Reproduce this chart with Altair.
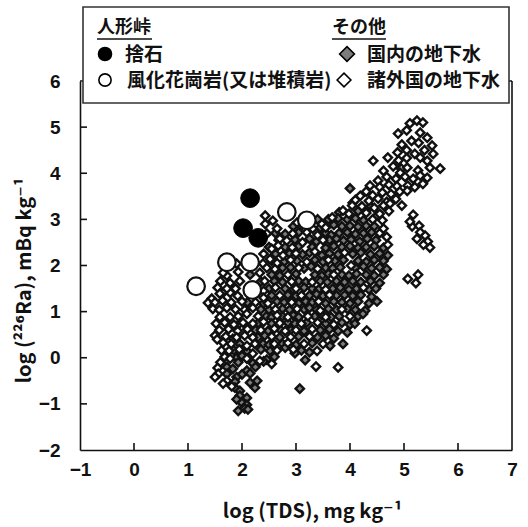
import altair as alt
import pandas as pd

# ---------------- data ----------------
waste_rock = [(2.15, 3.46), (2.02, 2.81), (2.30, 2.60)]            # 捨石
weathered_granite = [(1.15, 1.55), (1.72, 2.07), (2.15, 2.07),
                     (2.19, 1.47), (2.83, 3.16), (3.20, 2.98)]      # 風化花崗岩(又は堆積岩)

domestic_gw = [  # 国内の地下水 (gray diamonds)
    (4.00, 3.67), (4.05, 3.36), (3.80, 3.15), (4.15, 3.18), (4.38, 3.28), (4.50, 3.08),
    (3.40, 3.00), (3.60, 3.00), (3.78, 3.02), (3.95, 3.00), (4.10, 3.02), (4.25, 2.98),
    (2.95, 2.85), (3.10, 2.86), (3.25, 2.84), (3.45, 2.82), (3.70, 2.88), (3.85, 2.85),
    (4.00, 2.86), (4.15, 2.84), (4.30, 2.86), (4.45, 2.85),
    (2.62, 2.70), (2.80, 2.68), (3.05, 2.72), (3.55, 2.70), (3.65, 2.66), (3.80, 2.70),
    (3.95, 2.72), (4.10, 2.68), (4.25, 2.70), (4.40, 2.72),
    (2.68, 2.55), (2.98, 2.56), (3.25, 2.58), (3.38, 2.52), (3.62, 2.55), (3.75, 2.58),
    (3.88, 2.54), (4.02, 2.56), (4.18, 2.52), (4.32, 2.58), (4.48, 2.55),
    (2.50, 2.40), (2.80, 2.40), (3.05, 2.42), (3.30, 2.40), (3.55, 2.38), (3.70, 2.42),
    (3.85, 2.40), (4.00, 2.42), (4.15, 2.38), (4.30, 2.40), (4.45, 2.42), (4.62, 2.38),
    (2.62, 2.25), (2.88, 2.26), (3.12, 2.24), (3.25, 2.28), (3.48, 2.22), (3.62, 2.26),
    (3.78, 2.24), (4.05, 2.25), (4.20, 2.28), (4.38, 2.24), (4.55, 2.26), (4.70, 2.22),
    (2.55, 2.10), (2.78, 2.08), (3.02, 2.10), (3.35, 2.12), (3.50, 2.08), (3.72, 2.10),
    (3.88, 2.12), (4.15, 2.10), (4.30, 2.08), (4.45, 2.12), (4.62, 2.10),
    (2.75, 1.95), (2.90, 1.96), (3.15, 1.94), (3.28, 1.98), (3.55, 1.95), (3.68, 1.94),
    (3.82, 1.96), (4.10, 1.95), (4.25, 1.98), (4.40, 1.94), (4.55, 1.96), (4.68, 1.92),
    (2.15, 1.80), (2.55, 1.80), (2.70, 1.78), (3.00, 1.82), (3.35, 1.80), (3.48, 1.78),
    (3.60, 1.82), (3.85, 1.80), (3.98, 1.78), (4.12, 1.82), (4.30, 1.80), (4.45, 1.78), (4.62, 1.80),
    (2.35, 1.65), (2.60, 1.66), (2.75, 1.64), (3.05, 1.66), (3.18, 1.64), (3.45, 1.66),
    (3.58, 1.64), (3.75, 1.66), (3.90, 1.64), (4.05, 1.66), (4.20, 1.64), (4.38, 1.66), (4.55, 1.62),
    (2.50, 1.50), (2.80, 1.50), (2.95, 1.48), (3.15, 1.52), (3.30, 1.50), (3.42, 1.48),
    (3.68, 1.50), (3.82, 1.52), (3.98, 1.48), (4.12, 1.50), (4.35, 1.48), (4.48, 1.50),
    (2.55, 1.35), (2.85, 1.36), (3.00, 1.34), (3.25, 1.35), (3.38, 1.38), (3.50, 1.34),
    (3.75, 1.35), (3.90, 1.36), (4.05, 1.34), (4.20, 1.36), (4.40, 1.32),
    (2.10, 1.20), (2.40, 1.18), (2.65, 1.22), (2.78, 1.20), (3.05, 1.18), (3.18, 1.22),
    (3.30, 1.20), (3.55, 1.18), (3.70, 1.22), (3.85, 1.20), (4.00, 1.18), (4.15, 1.22),
    (4.35, 1.18), (4.50, 1.22),
    (2.35, 1.05), (2.50, 1.04), (2.75, 1.06), (2.88, 1.04), (3.15, 1.05), (3.25, 1.08),
    (3.38, 1.04), (3.60, 1.06), (3.75, 1.04), (3.95, 1.06), (4.10, 1.04), (4.28, 1.02),
    (2.45, 0.90), (2.55, 0.88), (2.75, 0.90), (2.95, 0.92), (3.05, 0.88), (3.35, 0.90),
    (3.48, 0.92), (3.65, 0.88), (3.80, 0.90), (4.15, 0.90), (4.24, 0.95),
    (1.95, 0.74), (2.30, 0.75), (2.55, 0.74), (2.85, 0.76), (2.98, 0.74), (3.20, 0.76),
    (3.55, 0.74), (3.85, 0.76), (4.00, 0.72), (4.09, 0.74),
    (2.25, 0.60), (2.48, 0.58), (2.70, 0.62), (2.90, 0.60), (3.15, 0.58), (3.45, 0.60),
    (3.62, 0.62), (3.78, 0.58), (3.95, 0.55),
    (1.83, 0.41), (2.30, 0.44), (2.42, 0.48), (2.70, 0.44), (3.05, 0.46), (3.40, 0.44),
    (3.55, 0.48), (3.70, 0.42),
    (1.96, 0.30), (2.39, 0.30), (2.50, 0.28), (2.75, 0.30), (3.00, 0.28), (3.30, 0.32),
    (3.63, 0.26), (3.87, 0.30),
    (1.85, 0.16), (2.10, 0.14), (2.35, 0.18), (2.52, 0.15), (2.80, 0.22), (3.10, 0.16), (3.25, 0.12),
    (1.90, 0.00), (2.00, 0.04), (2.46, -0.04), (2.60, 0.02), (2.98, 0.10), (3.17, -0.05),
    (1.93, -0.10), (2.20, -0.12), (2.40, -0.08),
    (1.72, -0.20), (1.83, -0.24), (2.09, -0.28), (2.25, -0.20),
    (1.72, -0.35), (2.00, -0.36), (2.15, -0.34), (1.90, -0.42),
    (1.87, -0.52), (2.15, -0.54), (2.28, -0.50),
    (1.87, -0.65), (1.96, -0.72), (2.24, -0.65), (3.07, -0.67),
    (1.96, -0.82), (2.09, -0.87), (1.90, -0.90),
    (2.00, -0.98), (2.09, -1.02), (2.05, -1.10), (1.93, -1.15), (2.11, -1.12),
]

foreign_gw = [  # 諸外国の地下水 (open diamonds)
    (5.11, 5.08), (5.24, 5.14), (5.35, 5.10),
    (4.89, 4.86), (5.05, 4.93), (5.30, 4.88), (5.43, 4.77),
    (4.96, 4.62), (5.14, 4.70), (5.27, 4.66), (5.52, 4.60),
    (4.88, 4.45), (5.05, 4.50), (5.20, 4.42), (5.38, 4.50), (5.54, 4.42),
    (4.43, 4.27), (4.70, 4.34), (4.90, 4.28), (5.05, 4.33), (5.30, 4.34), (5.43, 4.27),
    (4.62, 4.05), (4.80, 4.15), (4.95, 4.10), (5.06, 4.12), (5.26, 4.06), (5.48, 4.12), (5.67, 4.10),
    (4.52, 3.84), (4.68, 3.92), (4.85, 3.88), (4.93, 4.01), (5.02, 3.92), (5.17, 3.88),
    (5.30, 3.95), (5.43, 3.90),
    (4.37, 3.73), (4.55, 3.70), (4.72, 3.75), (4.87, 3.72), (5.07, 3.73), (5.20, 3.70), (5.35, 3.77),
    (4.19, 3.51), (4.30, 3.60), (4.42, 3.52), (4.60, 3.58), (4.76, 3.55), (4.92, 3.60), (5.06, 3.62),
    (4.10, 3.42), (4.35, 3.40), (4.52, 3.45), (4.68, 3.38), (4.85, 3.44),
    (4.04, 3.30), (4.22, 3.28), (4.45, 3.25), (4.62, 3.30), (4.74, 3.34), (4.96, 3.30),
    (3.87, 3.19), (3.98, 3.12), (4.30, 3.14), (4.55, 3.12), (4.72, 3.18), (5.17, 3.10),
    (3.67, 3.04), (4.42, 3.00), (4.60, 2.98), (5.15, 2.85), (5.11, 2.95), (5.28, 2.86),
    (5.24, 2.58), (5.39, 2.65), (5.30, 2.72), (5.44, 2.52), (5.48, 2.39), (5.36, 2.45),
    (5.07, 1.71), (5.26, 1.80), (5.22, 1.62),
    (4.31, 0.59), (3.78, -0.21), (3.37, -0.19),
    (3.48, 2.90), (3.31, 2.80), (3.55, 2.82), (3.02, 2.93), (3.20, 2.72), (2.94, 2.69),
    (3.40, 2.66), (4.55, 2.70), (4.68, 2.62), (4.62, 2.80),
    (2.43, 3.08), (2.57, 2.97), (2.43, 2.90), (2.65, 2.80), (2.46, 2.69), (2.70, 2.58),
    (2.83, 2.54), (2.93, 2.39), (3.12, 2.50), (3.50, 2.55), (4.70, 2.45),
    (2.55, 2.36), (2.67, 2.43), (2.40, 2.25), (2.76, 2.22), (3.00, 2.26), (3.35, 2.30), (3.90, 2.28),
    (1.90, 2.04), (2.39, 2.04), (2.52, 2.14), (2.65, 2.05), (2.90, 2.12), (3.20, 2.08),
    (3.60, 2.12), (4.02, 2.00),
    (1.93, 1.86), (1.72, 1.78), (1.65, 1.84), (2.33, 1.84), (2.46, 1.95), (2.61, 1.92),
    (2.85, 1.80), (3.05, 1.95), (3.40, 1.93), (3.70, 1.80),
    (1.60, 1.66), (1.78, 1.62), (1.96, 1.66), (2.42, 1.66), (2.92, 1.65), (3.30, 1.64),
    (1.65, 1.41), (1.78, 1.41), (1.55, 1.52), (1.72, 1.50), (1.88, 1.50), (2.40, 1.45),
    (2.62, 1.52), (3.00, 1.50), (3.55, 1.48), (4.25, 1.52),
    (1.44, 1.28), (1.59, 1.39), (1.92, 1.34), (2.40, 1.30), (2.70, 1.35), (3.10, 1.35), (3.62, 1.36),
    (1.37, 1.19), (1.50, 1.20), (1.64, 1.24), (1.80, 1.20), (2.00, 1.22), (2.25, 1.20),
    (2.48, 1.18), (2.92, 1.20), (3.42, 1.22),
    (1.46, 1.06), (1.58, 1.04), (1.72, 1.08), (1.88, 1.05), (2.05, 1.04), (2.20, 1.08),
    (2.62, 1.05), (3.02, 1.06), (3.45, 1.02), (3.85, 1.05),
    (1.59, 0.88), (1.78, 0.88), (1.93, 0.90), (2.09, 0.95), (2.30, 0.90), (2.65, 0.92),
    (2.85, 0.88), (3.22, 0.90), (3.55, 0.88), (4.00, 0.90),
    (1.52, 0.74), (1.68, 0.76), (1.85, 0.72), (2.02, 0.76), (2.20, 0.74), (2.40, 0.78),
    (2.70, 0.75), (3.10, 0.74), (3.40, 0.76), (3.70, 0.72),
    (1.58, 0.60), (1.75, 0.62), (1.92, 0.58), (2.10, 0.62), (2.35, 0.60), (2.60, 0.63),
    (2.80, 0.58), (3.00, 0.60), (3.30, 0.62),
    (1.50, 0.48), (1.54, 0.40), (1.70, 0.46), (1.90, 0.44), (2.05, 0.48), (2.20, 0.44),
    (2.55, 0.46), (2.90, 0.45), (3.25, 0.46),
    (1.65, 0.33), (1.80, 0.30), (2.09, 0.26), (2.24, 0.30), (2.60, 0.30), (2.85, 0.32),
    (3.15, 0.30), (3.50, 0.30),
    (1.62, 0.16), (1.76, 0.15), (1.95, 0.18), (2.20, 0.09), (2.65, 0.16), (2.95, 0.18), (3.39, 0.15),
    (1.68, 0.02), (1.78, -0.02), (2.09, -0.02), (2.33, -0.07), (1.60, -0.10),
    (1.55, -0.22), (2.55, -0.13), (1.56, -0.35), (1.50, -0.42), (1.72, -0.50),
    (1.65, -0.56), (1.81, -0.62),
]

x_ticks = [-1, 0, 1, 2, 3, 4, 5, 6, 7]
y_ticks = [-2, -1, 0, 1, 2, 3, 4, 5, 6]

# ---------------- chart ----------------
W, H = 432, 369
INK = "#111111"
NUM_FONT = "Liberation Sans, Arial, DejaVu Sans"
JP_FONT = "Noto Sans CJK JP, DejaVu Sans"

xs = alt.Scale(domain=[-1, 7], nice=False, zero=False)
ys = alt.Scale(domain=[-2, 6], nice=False, zero=False)

x_axis = alt.Axis(values=x_ticks, title="log (TDS), mg kg⁻¹", grid=False, ticks=False,
                  tickSize=0, domainColor=INK, domainWidth=1.6, labelFlush=False,
                  labelOverlap=False, labelFont=NUM_FONT, labelFontSize=19,
                  labelFontWeight="bold", labelColor=INK, labelPadding=10,
                  titleFont=JP_FONT, titleFontSize=20, titleFontWeight="bold",
                  titleColor=INK, titleX=232, titleY=61, titleAlign="center",
                  titleBaseline="middle")
y_axis = alt.Axis(values=y_ticks, title="log (²²⁶Ra), mBq kg⁻¹", grid=False, ticks=False,
                  tickSize=0, domainColor=INK, domainWidth=1.6, labelFlush=False,
                  labelOverlap=False, labelFont=NUM_FONT, labelFontSize=19,
                  labelFontWeight="bold", labelColor=INK, labelPadding=20,
                  titleFont=JP_FONT, titleFontSize=20, titleFontWeight="bold",
                  titleColor=INK, titleX=-56, titleY=199, titleAngle=270,
                  titleAlign="center", titleBaseline="middle")

X = alt.X("x:Q", scale=xs, axis=x_axis)
Y = alt.Y("y:Q", scale=ys, axis=y_axis)

def df(pts):
    return pd.DataFrame(pts, columns=["x", "y"])

gray_layer = alt.Chart(df(domestic_gw)).mark_point(
    shape="diamond", filled=True, fill="#7c7c7c", stroke=INK, strokeWidth=2.4,
    size=70, opacity=1).encode(x=X, y=Y)
open_layer = alt.Chart(df(foreign_gw)).mark_point(
    shape="diamond", filled=True, fill="white", stroke=INK, strokeWidth=2.4,
    size=70, opacity=1).encode(x=X, y=Y)
granite_layer = alt.Chart(df(weathered_granite)).mark_point(
    shape="circle", filled=True, fill="white", stroke=INK, strokeWidth=2.2,
    size=310, opacity=1).encode(x=X, y=Y)
rock_layer = alt.Chart(df(waste_rock)).mark_point(
    shape="circle", filled=True, fill="black", stroke="black", strokeWidth=1,
    size=350, opacity=1).encode(x=X, y=Y)

# inward ticks
xt = alt.Chart(pd.DataFrame({"x": x_ticks[1:-1]})).mark_rule(color=INK, strokeWidth=1.6).encode(
    x=X, y=alt.value(H), y2=alt.value(H - 7))
yt = alt.Chart(pd.DataFrame({"y": y_ticks[1:-1]})).mark_rule(color=INK, strokeWidth=1.6).encode(
    y=Y, x=alt.value(0), x2=alt.value(7))

one = pd.DataFrame({"a": [0]})
right_edge = alt.Chart(one).mark_rule(color=INK, strokeWidth=1.6).encode(
    x=alt.value(W), y=alt.value(0), y2=alt.value(H))
top_edge = alt.Chart(one).mark_rule(color=INK, strokeWidth=1.6).encode(
    y=alt.value(0), x=alt.value(0), x2=alt.value(W))

# legend (manual)
box = alt.Chart(one).mark_rect(fill="white", stroke="#333", strokeWidth=1.6).encode(
    x=alt.value(3), x2=alt.value(429), y=alt.value(-74), y2=alt.value(22))

def txt(s, x, y, size=19):
    return alt.Chart(one).mark_text(text=s, align="left", baseline="middle", font=JP_FONT,
                                    fontSize=size, fontWeight="bold", color=INK).encode(
        x=alt.value(x), y=alt.value(y))

def uline(x1, x2, y):
    return alt.Chart(one).mark_rule(color=INK, strokeWidth=1.6).encode(
        x=alt.value(x1), x2=alt.value(x2), y=alt.value(y))

def sym(shape, fill, size, x, y, sw=1.6):
    return alt.Chart(one).mark_point(shape=shape, filled=True, fill=fill, stroke="black",
                                     strokeWidth=sw, size=size, opacity=1).encode(
        x=alt.value(x), y=alt.value(y))

legend_layers = [
    box,
    txt("人形峠", 17, -53, 18), uline(17, 72, -42),
    sym("circle", "black", 170, 25, -27),
    txt("捨石", 45, -26),
    sym("circle", "white", 150, 25, -1),
    txt("風化花崗岩(又は堆積岩)", 47, 0),
    txt("その他", 252, -53, 18), uline(252, 306, -42),
    sym("diamond", "#7c7c7c", 220, 267, -27),
    txt("国内の地下水", 287, -26),
    sym("diamond", "white", 190, 264, -1),
    txt("諸外国の地下水", 287, 0),
]

chart = alt.layer(
    gray_layer, open_layer, granite_layer, rock_layer,
    xt, yt, right_edge, top_edge, *legend_layers
).properties(
    width=W, height=H,
    autosize=alt.AutoSizeParams(type="none"),
    padding={"left": 80, "top": 81, "right": 16, "bottom": 77},
).configure(background="white").configure_view(strokeWidth=0)

chart.save("out.html", embed_options={"renderer": "svg", "actions": False})
